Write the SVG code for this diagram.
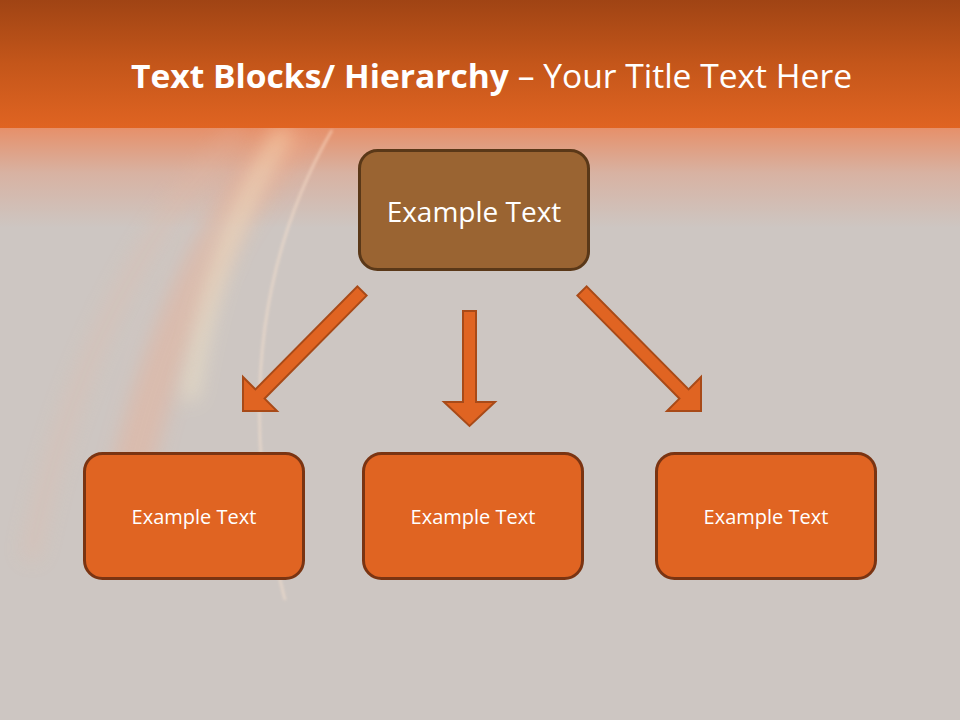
<svg xmlns="http://www.w3.org/2000/svg" width="960" height="720" viewBox="0 0 960 720">
<defs>
<linearGradient id="band" x1="0" y1="0" x2="0" y2="1">
<stop offset="0" stop-color="#a04414"/>
<stop offset="0.5" stop-color="#c4561a"/>
<stop offset="1" stop-color="#e06422"/>
</linearGradient>
<linearGradient id="fade" x1="0" y1="0" x2="0" y2="1">
<stop offset="0" stop-color="#e6906a"/>
<stop offset="0.45" stop-color="#d8b2a2"/>
<stop offset="1" stop-color="#cdc6c2"/>
</linearGradient>
<filter id="blur" x="-50%" y="-50%" width="200%" height="200%"><feGaussianBlur stdDeviation="10"/></filter>
<filter id="blur2" x="-50%" y="-50%" width="200%" height="200%"><feGaussianBlur stdDeviation="1.5"/></filter>
<style>
.box{stroke-width:3}
.top{fill:#9a6432;stroke:#5a3818}
.bot{fill:#e06422;stroke:#7a3412}
.lbl{fill:#ffffff;font-family:"Open Sans","Noto Sans",sans-serif;text-anchor:middle;dominant-baseline:central}
.arrow{fill:#e06422;stroke:#a84a18;stroke-width:2;stroke-linejoin:miter}
</style>
</defs>
<rect width="960" height="720" fill="#cdc6c2"/>
<rect x="0" y="128" width="960" height="100" fill="url(#fade)"/>
<g id="glow" opacity="0.7">
<path d="M120,520 C150,380 200,230 300,130" fill="none" stroke="#f2a888" stroke-width="40" filter="url(#blur)" opacity="0.5"/>
<path d="M190,400 C205,300 230,220 285,130" fill="none" stroke="#fff0c8" stroke-width="12" filter="url(#blur)" opacity="0.8"/>
<path d="M332,130 C280,220 250,330 262,470 C266,520 275,560 285,600" fill="none" stroke="#ffe6d0" stroke-width="2" filter="url(#blur2)" opacity="0.9"/>
<path d="M30,560 C60,400 130,240 240,130" fill="none" stroke="#e8b8a0" stroke-width="20" filter="url(#blur)" opacity="0.35"/>
</g>
<rect x="0" y="0" width="960" height="128" fill="url(#band)"/>
<text x="131" y="88" font-family="Open Sans,'Noto Sans',sans-serif" font-size="32" fill="#ffffff" textLength="721" lengthAdjust="spacingAndGlyphs"><tspan font-weight="bold">Text Blocks/ Hierarchy</tspan> – Your Title Text Here</text>
<g id="connectors">
<polygon class="arrow" points="357.4,286.4 366.6,295.6 264.6,398.6 277,411 243,411 243,377 255.4,389.4"/>
<polygon class="arrow" points="463,311 476,311 476,402 495,402 469.5,426 444,402 463,402"/>
<polygon class="arrow" points="586.6,286.4 577.4,295.6 679.4,398.6 667,411 701,411 701,377 688.6,389.4"/>
</g>
<g id="node-top">
<rect class="box top" x="359.5" y="150.5" width="229" height="119" rx="18"/>
<text class="lbl" x="474" y="211" font-size="28">Example Text</text>
</g>
<g id="node-left">
<rect class="box bot" x="84.5" y="453.5" width="219" height="125" rx="18"/>
<text class="lbl" x="194" y="516" font-size="20">Example Text</text>
</g>
<g id="node-middle">
<rect class="box bot" x="363.5" y="453.5" width="219" height="125" rx="18"/>
<text class="lbl" x="473" y="516" font-size="20">Example Text</text>
</g>
<g id="node-right">
<rect class="box bot" x="656.5" y="453.5" width="219" height="125" rx="18"/>
<text class="lbl" x="766" y="516" font-size="20">Example Text</text>
</g>
</svg>
